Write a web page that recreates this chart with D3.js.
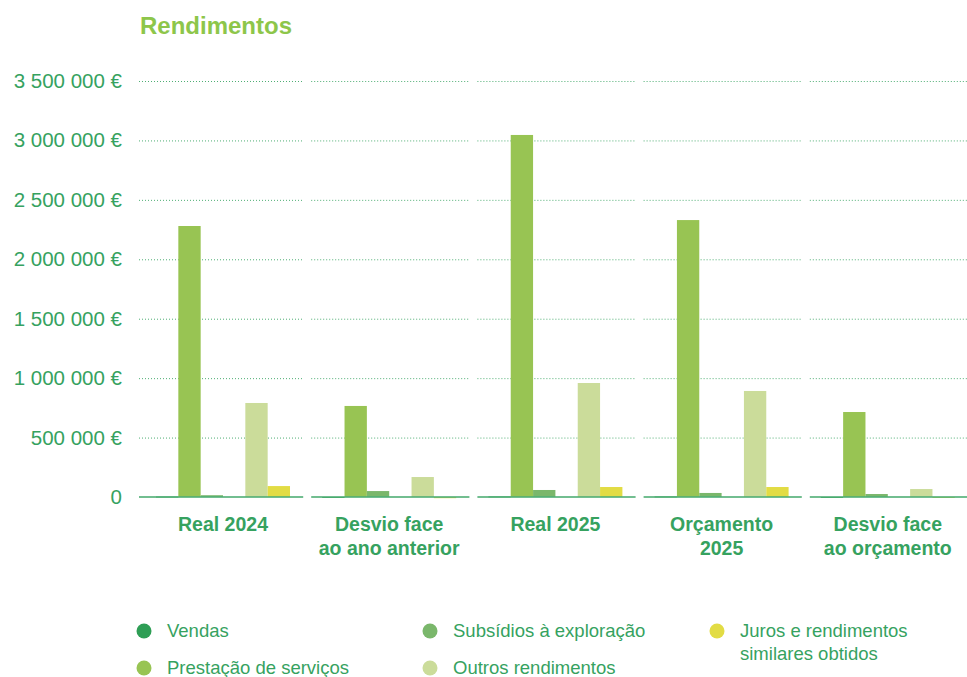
<!DOCTYPE html>
<html>
<head>
<meta charset="utf-8">
<script src="https://cdn.jsdelivr.net/npm/d3@7"></script>
<style>
  body { margin: 0; background: #fff; }
  svg { font-family: "Liberation Sans", Arial, sans-serif; }
</style>
</head>
<body>
<div id="chart-area"></div>
<script>
// Chart data
var categories = ["Real 2024", "Desvio face\nao ano anterior", "Real 2025", "Orçamento\n2025", "Desvio face\nao orçamento"];
var vendas      = [4000, -3000, 5000, 5000, -2000];
var prestacao   = [2280000, 766000, 3046000, 2330000, 715000];
var subsidios   = [15000, 50000, 59000, 34000, 25000];
var outros      = [791000, 168000, 959000, 892000, 67000];
var juros       = [92000, -10000, 84000, 84000, -1500];
var yTicks = [0, 500000, 1000000, 1500000, 2000000, 2500000, 3000000, 3500000];

var series = [
    { name: "Vendas", values: vendas, color: "#2e9e55", slot: 0 },
    { name: "Prestação de serviços", values: prestacao, color: "#98c453", slot: 1 },
    { name: "Subsídios à exploração", values: subsidios, color: "#7ab76b", slot: 2 },
    { name: "Outros rendimentos", values: outros, color: "#cbdc9a", slot: 4 },
    { name: "Juros e rendimentos\nsimilares obtidos", values: juros, color: "#e2dc44", slot: 5 }
];

var width = 967;
var height = 677;
var textColor = "#36a25f";

var svg = d3.select("#chart-area")
    .append("svg")
    .attr("width", width)
    .attr("height", height);

// Title
svg.append("text")
    .attr("x", 140)
    .attr("y", 34)
    .attr("font-size", "24px")
    .attr("font-weight", "bold")
    .attr("fill", "#8dc64a")
    .text("Rendimentos");

// Scales
var x = d3.scaleBand()
    .domain(categories)
    .range([140, 971])
    .padding(0);

var xSub = d3.scaleBand()
    .domain(d3.range(6))
    .range([16, 150])
    .padding(0);

var y = d3.scaleLinear()
    .domain([0, 3500000])
    .range([497, 81]);

// Grid segments per group
var segLeft = (c, i) => i === 0 ? x.range()[0] - 1 : x(c) + 5;
var segRight = c => x(c) + x.bandwidth() - 3;

categories.forEach((c, i) => {
    svg.selectAll(null)
        .data(yTicks.filter(t => t > 0))
        .enter()
        .append("line")
        .attr("x1", segLeft(c, i))
        .attr("x2", segRight(c))
        .attr("y1", d => y(d) + 0.5)
        .attr("y2", d => y(d) + 0.5)
        .attr("stroke", "#4fae74")
        .attr("stroke-width", 1)
        .attr("stroke-dasharray", "1,2");
});

// Y axis labels
var yAxis = d3.axisLeft(y)
    .tickValues(yTicks)
    .tickSize(0)
    .tickPadding(0)
    .tickFormat(d => d === 0 ? "0" : d3.format(",")(d).replace(/,/g, " ") + " €");

var gy = svg.append("g")
    .attr("transform", "translate(122,0)")
    .call(yAxis);
gy.select(".domain").remove();
gy.selectAll("text")
    .attr("font-size", "20.5px")
    .attr("fill", textColor)
    .attr("font-family", "Liberation Sans, Arial, sans-serif");

// Bars
series.forEach(s => {
    svg.selectAll(null)
        .data(s.values)
        .enter()
        .append("rect")
        .attr("x", (d, i) => x(categories[i]) + xSub(s.slot))
        .attr("y", d => y(Math.max(0, d)))
        .attr("width", xSub.bandwidth())
        .attr("height", d => Math.max(1, Math.abs(y(d) - y(0))))
        .attr("fill", s.color);
});

// Baseline segments
categories.forEach((c, i) => {
    svg.append("line")
        .attr("x1", segLeft(c, i))
        .attr("x2", segRight(c))
        .attr("y1", y(0))
        .attr("y2", y(0))
        .attr("stroke", "#4fae74")
        .attr("stroke-opacity", 0.8)
        .attr("stroke-width", 2);
});

// Category labels
categories.forEach(c => {
    var t = svg.append("text")
        .attr("x", x(c) + 83)
        .attr("y", 531)
        .attr("text-anchor", "middle")
        .attr("font-size", "19.5px")
        .attr("font-weight", "bold")
        .attr("fill", textColor);
    c.split("\n").forEach((line, k) => {
        t.append("tspan")
            .attr("x", x(c) + 83)
            .attr("dy", k === 0 ? 0 : 24)
            .text(line);
    });
});

// Legend
var legendPos = [[144, 631], [144, 668], [430, 631], [430, 668], [717, 631]];
legendPos.forEach((p, k) => {
    var s = series[k];
    svg.append("circle")
        .attr("cx", p[0])
        .attr("cy", p[1])
        .attr("r", 7.5)
        .attr("fill", s.color);
    var t = svg.append("text")
        .attr("x", p[0] + 23)
        .attr("y", p[1] + 6)
        .attr("font-size", "18.5px")
        .attr("fill", textColor);
    s.name.split("\n").forEach((line, j) => {
        t.append("tspan")
            .attr("x", p[0] + 23)
            .attr("dy", j === 0 ? 0 : 23)
            .text(line);
    });
});
</script>
</body>
</html>
